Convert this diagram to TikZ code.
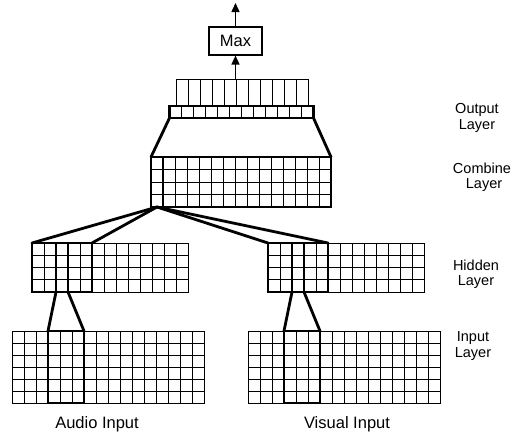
\documentclass[tikz,border=0pt]{standalone}
\usepackage{fontspec}
\setmainfont{Liberation Sans}
\usetikzlibrary{arrows.meta}
\tikzset{
  gridline/.style={line width=0.8pt},
  layerbox/.style={draw, line width=0.8pt, inner sep=0pt, outer sep=0pt, anchor=north west},
  hlbox/.style={draw, line width=2.8pt, inner sep=0pt, outer sep=0pt, anchor=north west},
  conn/.style={line width=2.8pt, line cap=round},
  arr/.style={line width=1.4pt, -{Triangle[length=9pt,width=8pt]}},
  sidelabel/.style={align=center, font=\fontsize{14.5}{15.5}\selectfont},
  bottomlabel/.style={font=\fontsize{16.5}{18}\selectfont}
}
\newcommand\cellgrid[6]{% x0, y0, ncols, nrows, w, h
  \pgfmathtruncatemacro\gcA{#3-1}
  \pgfmathtruncatemacro\gcB{#4-1}
  \foreach \i in {1,...,\gcA} \draw[gridline] ({#1+\i*#5},{#2}) -- ({#1+\i*#5},{#2+#4*#6});
  \ifnum\gcB>0
    \foreach \j in {1,...,\gcB} \draw[gridline] ({#1},{#2+\j*#6}) -- ({#1+#3*#5},{#2+\j*#6});
  \fi
}
\begin{document}
\begin{tikzpicture}[x=1pt,y=-1pt]
\useasboundingbox (0,0) rectangle (520,434);

% Max box and arrows
\node[draw, line width=1.1pt, minimum width=53, minimum height=28, inner sep=0pt,
      font=\fontsize{16.5}{18}\selectfont] (max) at (235.5,41) {Max};
\coordinate (topend) at (235.5,3);

% Output layer
\node[layerbox, line width=1pt, minimum width=132, minimum height=27] (outtop) at (176,79) {};
\cellgrid{176}{79}{11}{1}{12}{27}
\node[hlbox, minimum width=144, minimum height=12] (outstrip) at (169.5,106) {};
\cellgrid{169.5}{106}{12}{1}{12}{12}

\draw[arr] (outtop.north -| max.south) -- (max.south);
\draw[arr] (max.north) -- (topend);

% Combine layer
\cellgrid{151}{157}{15}{4}{12}{12.5}
\node[hlbox, minimum width=180, minimum height=50] (combine) at (151,157) {};
\node[hlbox, minimum width=12, minimum height=50] (comb1) at (151,157) {};
\draw[conn] (outstrip.south west) -- (combine.north west);
\draw[conn] (outstrip.south east) -- (combine.north east);

% Hidden layers
\node[layerbox, minimum width=156, minimum height=49] (hidL) at (32,243) {};
\cellgrid{32}{243}{13}{4}{12}{12.25}
\node[hlbox, minimum width=60, minimum height=49] (hidLhl) at (32,243) {};
\node[hlbox, minimum width=12, minimum height=49] (hidLc) at (56,243) {};

\node[layerbox, minimum width=156, minimum height=49] (hidR) at (268,243) {};
\cellgrid{268}{243}{13}{4}{12}{12.25}
\node[hlbox, minimum width=60, minimum height=49] (hidRhl) at (268,243) {};
\node[hlbox, minimum width=12, minimum height=49] (hidRc) at (292,243) {};

\coordinate (fan) at (157,207);
\draw[conn] (fan) -- (hidLhl.north west);
\draw[conn] (fan) -- (hidLhl.north east);
\draw[conn] (fan) -- (hidRhl.north west);
\draw[conn] (fan) -- (hidRhl.north east);

% Input layers
\node[layerbox, minimum width=192, minimum height=72] (aud) at (12,331) {};
\cellgrid{12}{331}{16}{6}{12}{12}
\node[hlbox, minimum width=36, minimum height=72] (audhl) at (48,331) {};

\node[layerbox, minimum width=192, minimum height=72] (vis) at (248,331) {};
\cellgrid{248}{331}{16}{6}{12}{12}
\node[hlbox, minimum width=36, minimum height=72] (vishl) at (284,331) {};

\draw[conn] (hidLc.south west) -- (audhl.north west);
\draw[conn] (hidLc.south east) -- (audhl.north east);
\draw[conn] (hidRc.south west) -- (vishl.north west);
\draw[conn] (hidRc.south east) -- (vishl.north east);

% Labels
\node[sidelabel] (lout) at (477,118) {Output\\Layer};
\node[sidelabel] (lcomb) at (482,177) {Combine\\\ Layer};
\node[sidelabel] (lhid) at (476,274) {Hidden\\Layer};
\node[sidelabel] (linp) at (473,346) {Input\\Layer};
\node[bottomlabel] (laud) at (97,424) {Audio Input};
\node[bottomlabel] (lvis) at (347,424) {Visual Input};
\end{tikzpicture}
\end{document}
